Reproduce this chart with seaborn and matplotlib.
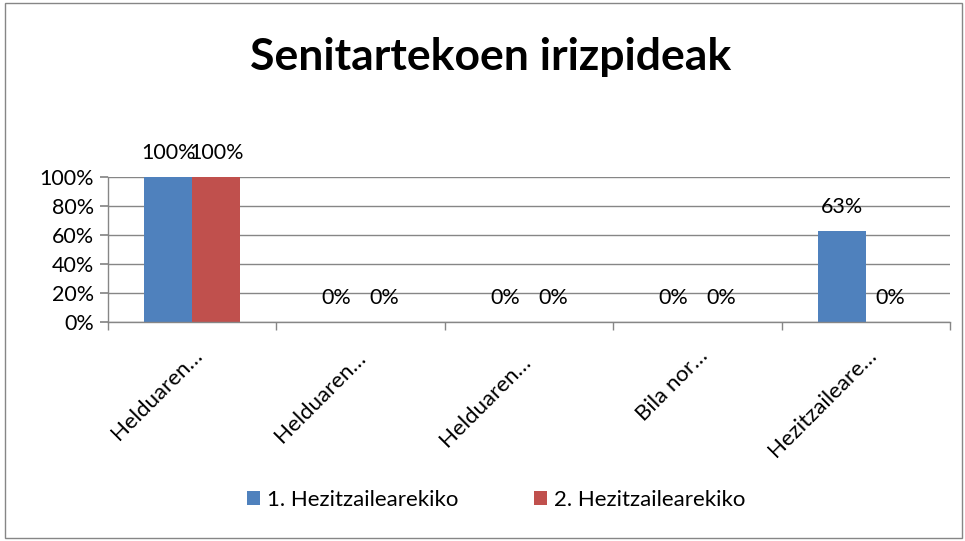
import matplotlib
matplotlib.use("Agg")
import matplotlib.pyplot as plt
import seaborn as sns
import pandas as pd
from matplotlib.patches import Rectangle

categories = ["Helduaren…", "Helduaren… ", "Helduaren…  ", "Bila nor…", "Hezitzaileare…"]
series_names = ["1. Hezitzailearekiko", "2. Hezitzailearekiko"]
series1 = [100, 0, 0, 0, 63]
series2 = [100, 0, 0, 0, 0]
yticks = [0, 20, 40, 60, 80, 100]
title = "Senitartekoen irizpideak"

colors = ["#4F81BD", "#C0504D"]

df = pd.DataFrame({
    "cat": categories * 2,
    "series": [series_names[0]] * len(categories) + [series_names[1]] * len(categories),
    "value": series1 + series2,
})

sns.set_theme(style="white")
plt.rcParams["font.family"] = ["Lato", "DejaVu Sans"]
plt.rcParams["text.color"] = "black"
plt.rcParams["xtick.labelcolor"] = "black"
plt.rcParams["ytick.labelcolor"] = "black"

fig = plt.figure(figsize=(9.65, 5.41), dpi=100)
ax = fig.add_axes([108 / 965, 1 - 322 / 541, 842 / 965, 145 / 541])

sns.barplot(data=df, x="cat", y="value", hue="series", palette=colors,
            order=categories, hue_order=series_names, width=0.57,
            saturation=1, ax=ax, legend=True, linewidth=0)

ax.set_ylim(0, 100)
ax.set_xlim(-0.5, len(categories) - 0.5)
ax.set_yticks(yticks)
ax.set_yticklabels([f"{v}%" for v in yticks], fontsize=15.5)
ax.yaxis.grid(True, color="#868686", linewidth=1)
ax.set_axisbelow(True)
ax.set_xlabel("")
ax.set_ylabel("")

for s in ["top", "right"]:
    ax.spines[s].set_visible(False)
for s in ["left", "bottom"]:
    ax.spines[s].set_color("#868686")
    ax.spines[s].set_linewidth(1)

ax.tick_params(axis="y", which="major", left=True, length=6, color="#868686", pad=4, labelcolor="black")
ax.set_xticks(range(len(categories)))
ax.set_xticklabels(categories, rotation=45, ha="right", rotation_mode="anchor", fontsize=16)
ax.tick_params(axis="x", which="major", length=0, pad=17, labelcolor="black")
ax.set_xticks([i - 0.5 for i in range(len(categories) + 1)], minor=True)
ax.tick_params(axis="x", which="minor", bottom=True, length=6, color="#868686")

for cont in ax.containers:
    ax.bar_label(cont, labels=[f"{v:.0f}%" for v in cont.datavalues], padding=10,
                 fontsize=15.5, color="black")

ax.legend_.remove()
handles, labels = ax.get_legend_handles_labels()
fig.legend(handles, labels, loc="center", bbox_to_anchor=(496 / 965, 1 - 500 / 541),
           bbox_transform=fig.transFigure, ncol=2, frameon=False, fontsize=16,
           handlelength=0.6, handleheight=0.6, columnspacing=3.4, handletextpad=0.3,
           labelcolor="black")

fig.text(491 / 965, 1 - 57 / 541, title, ha="center", va="center", fontsize=32,
         fontweight="bold", color="black")

fig.patches.append(Rectangle((5 / 965, 3 / 541), 957 / 965, 535 / 541, transform=fig.transFigure,
                             fill=False, edgecolor="#868686", linewidth=1))

fig.savefig("out.png", dpi=100)
